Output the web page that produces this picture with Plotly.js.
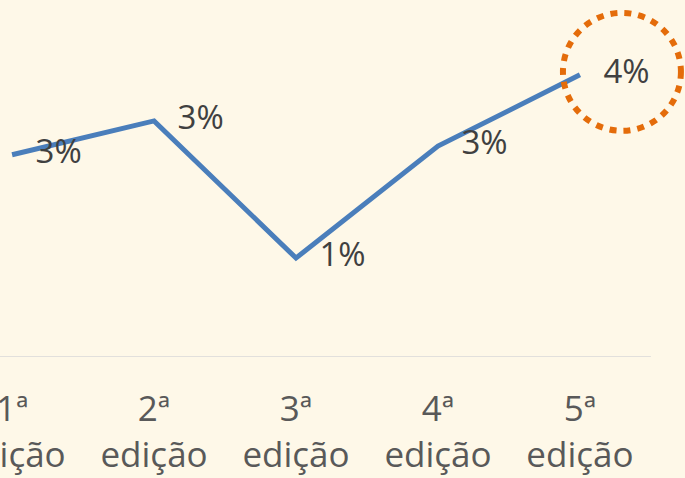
<!DOCTYPE html>
<html>
<head>
<meta charset="utf-8">
<script src="https://cdn.plot.ly/plotly-3.0.1.min.js"></script>
<style>html,body{margin:0;padding:0;background:#FEF8E8;}#chart{width:685px;height:478px;}</style>
</head>
<body>
<div id="chart"></div>
<script>
const categories = ["1ª<br>edição", "2ª<br>edição", "3ª<br>edição", "4ª<br>edição", "5ª<br>edição"];
const values = [0.0281, 0.0328, 0.01375, 0.0293, 0.0392];
const highlightIndex = 4;

const trace = {
  x: categories,
  y: values,
  type: "scatter",
  mode: "lines+markers+text",
  line: {color: "#4A7EBB", width: 5},
  marker: {size: 36, opacity: 0},
  texttemplate: "%{y:.0%}",
  textposition: "middle right",
  textfont: {family: "Open Sans, sans-serif", size: 33, color: "#404040"},
  cliponaxis: false,
  hoverinfo: "skip"
};

const layout = {
  width: 685, height: 478,
  margin: {l: 0, r: 0, t: 0, b: 121},
  paper_bgcolor: "#FEF8E8",
  plot_bgcolor: "#FEF8E8",
  showlegend: false,
  xaxis: {
    type: "category",
    range: [-0.085, 4.74],
    showgrid: false,
    zeroline: false,
    showline: false,
    ticks: "",
    ticklabelstandoff: 28,
    tickfont: {family: "Open Sans, sans-serif", size: 35, color: "#595959"}
  },
  yaxis: {
    range: [0, 0.0496],
    showgrid: false,
    zeroline: false,
    showline: false,
    showticklabels: false,
    ticks: ""
  },
  shapes: [
    {
      type: "line",
      xref: "x", yref: "y",
      x0: -0.5, x1: 4.5, y0: 0, y1: 0,
      line: {color: "#D9D9D9", width: 1.5}
    },
    {
      type: "circle",
      xref: "x", yref: "y",
      xsizemode: "pixel", ysizemode: "pixel",
      xanchor: categories[highlightIndex],
      yanchor: values[highlightIndex],
      x0: -17, x1: 101,
      y0: -56, y1: 62,
      line: {color: "#E46C0A", width: 6, dash: "7px,7px"}
    }
  ]
};

Plotly.newPlot("chart", [trace], layout, {staticPlot: true, displayModeBar: false});
</script>
</body>
</html>
